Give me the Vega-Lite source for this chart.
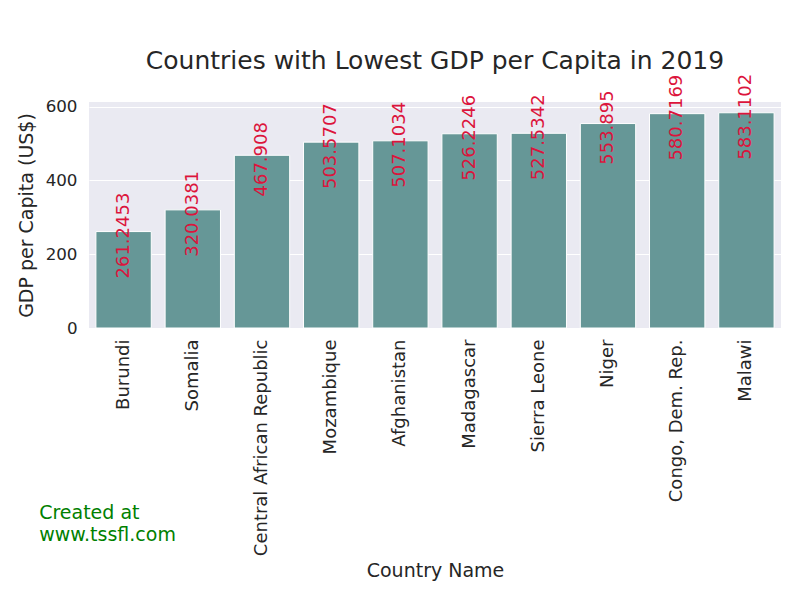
{
  "$schema": "https://vega.github.io/schema/vega-lite/v6.json",
  "background": "white",
  "padding": {"left": 17, "top": 48, "right": 19, "bottom": 10},
  "config": {
    "font": "DejaVu Sans",
    "view": {"fill": "#EAEAF2", "stroke": null},
    "axis": {
      "labelFont": "DejaVu Sans",
      "titleFont": "DejaVu Sans",
      "labelFontSize": 16.7,
      "titleFontSize": 19,
      "labelColor": "#262626",
      "titleColor": "#262626",
      "titleFontWeight": "normal",
      "labelLimit": 0,
      "ticks": false,
      "domain": false,
      "gridColor": "white",
      "gridWidth": 1.2,
      "gridOpacity": 1
    },
    "title": {"font": "DejaVu Sans", "fontWeight": "normal", "color": "#262626"}
  },
  "title": {
    "text": ["Created at", "www.tssfl.com"],
    "orient": "bottom",
    "anchor": "start",
    "color": "green",
    "fontSize": 19,
    "lineHeight": 22,
    "offset": -76,
    "dx": 22
  },
  "vconcat": [
    {
      "title": {
        "text": "Countries with Lowest GDP per Capita in 2019",
        "fontSize": 25,
        "anchor": "middle",
        "offset": 0
      },
      "width": 692,
      "height": 226,
      "data": {
        "values": [
          {"country": "Burundi", "gdp": 261.2453},
          {"country": "Somalia", "gdp": 320.0381},
          {"country": "Central African Republic", "gdp": 467.908},
          {"country": "Mozambique", "gdp": 503.5707},
          {"country": "Afghanistan", "gdp": 507.1034},
          {"country": "Madagascar", "gdp": 526.2246},
          {"country": "Sierra Leone", "gdp": 527.5342},
          {"country": "Niger", "gdp": 553.895},
          {"country": "Congo, Dem. Rep.", "gdp": 580.7169},
          {"country": "Malawi", "gdp": 583.1102}
        ]
      },
      "encoding": {
        "x": {
          "field": "country",
          "type": "nominal",
          "sort": null,
          "scale": {"paddingInner": 0.2, "paddingOuter": 0.1},
          "axis": {"title": "Country Name", "labelAngle": 270, "labelFontSize": 18, "labelPadding": 11, "titlePadding": 33, "grid": false}
        },
        "y": {
          "field": "gdp",
          "type": "quantitative",
          "scale": {"domain": [0, 612.3], "nice": false},
          "axis": {"title": "GDP per Capita (US$)", "values": [0, 200, 400, 600], "labelPadding": 12, "titlePadding": 9}
        }
      },
      "layer": [
        {"mark": {"type": "bar", "color": "#669797", "stroke": "white", "strokeWidth": 1}},
        {
          "mark": {"type": "text", "angle": 270, "color": "crimson", "fontSize": 18, "align": "center", "baseline": "middle", "dx": -4},
          "encoding": {"text": {"field": "gdp", "type": "nominal"}}
        }
      ]
    }
  ]
}
